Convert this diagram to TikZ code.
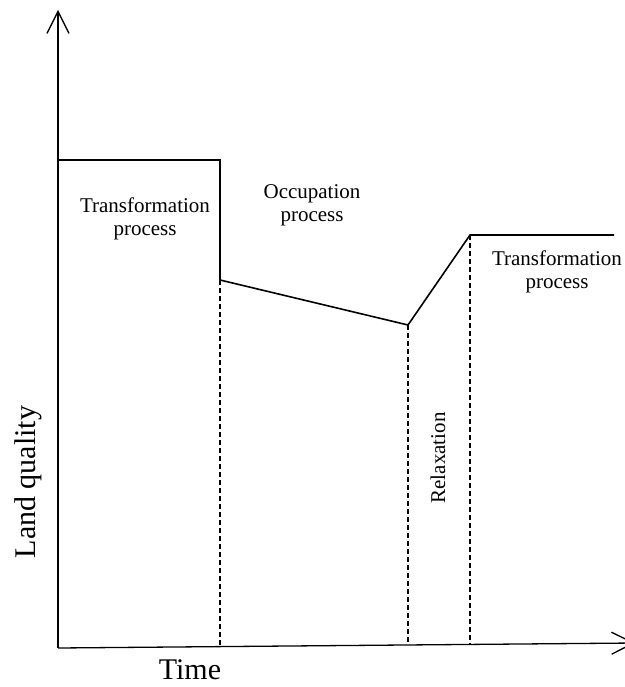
\documentclass[tikz,border=0pt]{standalone}
\usepackage{fontspec}
\setmainfont{Liberation Serif}
\usetikzlibrary{arrows.meta}
\begin{document}
\begin{tikzpicture}[x=1pt,y=-1pt,
    axis/.style={line width=1.3pt,-{Straight Barb[length=22pt,width=22pt,line width=1.3pt]}},
    quality/.style={line width=1.6pt,line join=miter},
    phase/.style={line width=1.2pt,dash pattern=on 5pt off 3pt},
    lbl/.style={font=\fontsize{21}{23}\selectfont,align=center,inner sep=0pt},
    axlbl/.style={font=\fontsize{30}{32}\selectfont,inner sep=0pt}]
    \useasboundingbox (0,0) rectangle (624,687);
    % axes
    \coordinate (origin) at (58,648);
    \coordinate (ytip) at (58,10);
    \coordinate (xtip) at (635,643);
    \draw[axis] (origin) -- (ytip);
    \draw[axis] (origin) -- (xtip);
    % land quality curve
    \coordinate (q0) at (58,160);
    \coordinate (q1) at (220,160);
    \coordinate (q2) at (220,280);
    \coordinate (q3) at (408,325);
    \coordinate (q4) at (470,235);
    \coordinate (q5) at (614,235);
    \draw[quality] (q0) -- (q1) -- (q2) -- (q3) -- (q4) -- (q5);
    % phase limits
    \draw[phase] (q2) -- (220,646.5);
    \draw[phase] (q3) -- (408,645);
    \draw[phase] (q4) -- (470,644.5);
    % labels
    \node[lbl] (trans1) at (145,219) {Transformation\\process};
    \node[lbl] (occup) at (312,205) {Occupation\\process};
    \node[lbl] (trans2) at (557,272) {Transformation\\process};
    \node[lbl,rotate=90] (relax) at (438,458) {Relaxation};
    \node[axlbl,rotate=90] (ylabel) at (28,482) {Land quality};
    \node[axlbl] (xlabel) at (190,670) {Time};
\end{tikzpicture}
\end{document}
